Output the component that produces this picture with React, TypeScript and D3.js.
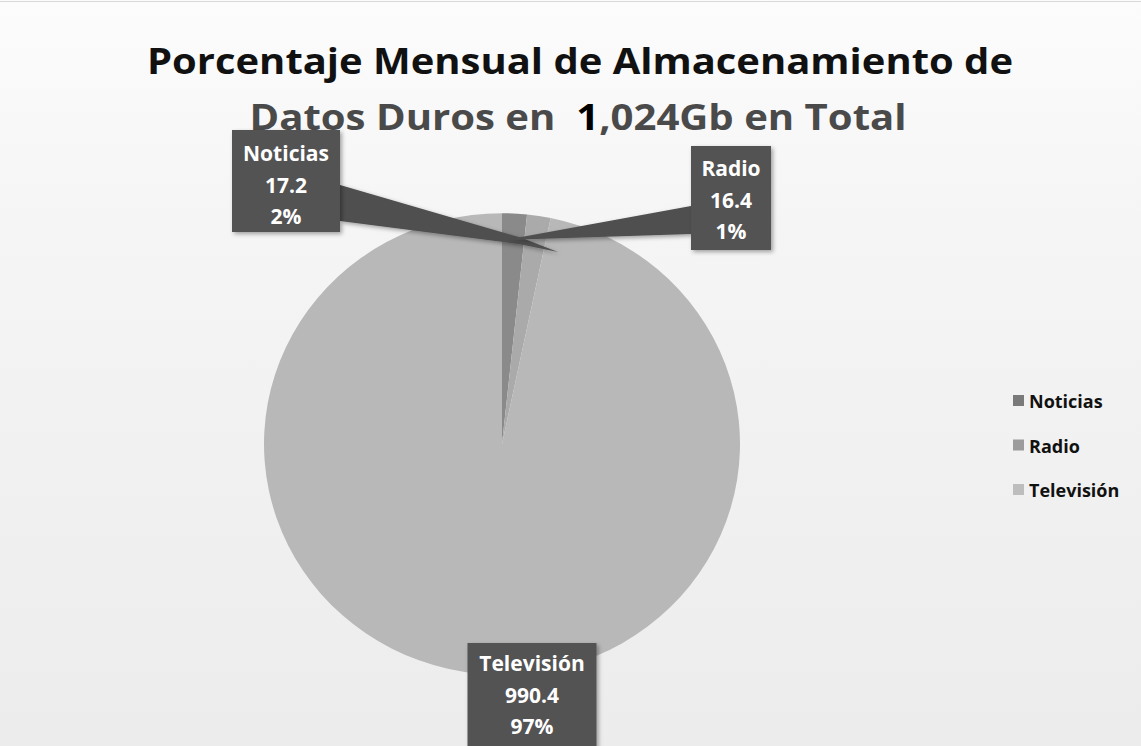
import React from "react";
import * as d3 from "d3";

const categories = ["Noticias", "Radio", "Televisión"];
const values = [17.2, 16.4, 990.4];
const percentLabels = ["2%", "1%", "97%"];
const sliceColors = ["#8a8a8a", "#aaaaaa", "#b8b8b8"];
const legendColors = ["#7a7a7a", "#9c9c9c", "#bdbdbd"];
const titleLine1 = "Porcentaje Mensual de Almacenamiento de";
const titleLine2a = "Datos Duros en  ";
const titleLine2b = "1";
const titleLine2c = ",024Gb en Total";

const W = 1141;
const H = 746;
const cx = 502;
const cy = 444;
const R = 238;
const yScale = 0.97;

// label box layout (center x, top y, width, height, first text line y)
const boxes = [
  { x: 286, y: 130, w: 108, h: 102, t: 153 },
  { x: 731, y: 146, w: 80, h: 104, t: 168 },
  { x: 532, y: 643, w: 129, h: 110, t: 663 },
];
const lineGap = 31.5;

export default function App() {
  const pie = d3
    .pie<number>()
    .sort(null)
    .value((d) => d)
    .startAngle(0)
    .endAngle(2 * Math.PI);
  const arcs = pie(values);
  const arc = d3.arc<d3.PieArcDatum<number>>().innerRadius(0).outerRadius(R);
  const fmt = d3.format(".1f");

  // leader callouts (label layout)
  const nb = boxes[0];
  const rb = boxes[1];
  const nRight = nb.x + nb.w / 2;
  const rLeft = rb.x - rb.w / 2;
  const calloutN = `M${nRight},185 L522,238 L558,252 L519,244 L${nRight},221 Z`;
  const calloutR = `M${rLeft},206 L${rLeft},234 L505,240 Z`;

  return (
    <svg
      width={W}
      height={H}
      style={{ position: "fixed", left: 0, top: 0, display: "block" }}
      fontFamily="'Open Sans', sans-serif"
    >
      <defs>
        <linearGradient id="bg" x1="0" y1="0" x2="0" y2="1">
          <stop offset="0" stopColor="#fcfcfc" />
          <stop offset="0.3" stopColor="#f5f5f5" />
          <stop offset="1" stopColor="#ececec" />
        </linearGradient>
        <filter id="shadow" x="-20%" y="-20%" width="140%" height="140%">
          <feDropShadow dx="2" dy="2" stdDeviation="2" floodColor="#000" floodOpacity="0.35" />
        </filter>
      </defs>
      <rect x={0} y={0} width={W} height={H} fill="url(#bg)" />
      <line x1={0} y1={1.5} x2={W} y2={1.5} stroke="#d8d8d8" strokeWidth={1} />

      <text
        x={580}
        y={74}
        textAnchor="middle"
        fontSize={35}
        fontWeight="bold"
        fill="#111"
        textLength={866}
        lengthAdjust="spacingAndGlyphs"
      >
        {titleLine1}
      </text>
      <text
        x={578}
        y={130}
        textAnchor="middle"
        fontSize={35}
        fontWeight="bold"
        fill="#4a4a4a"
        textLength={657}
        lengthAdjust="spacingAndGlyphs"
        style={{ whiteSpace: "pre" }}
      >
        {titleLine2a}
        <tspan fill="#000">{titleLine2b}</tspan>
        {titleLine2c}
      </text>

      <g transform={`translate(${cx},${cy}) scale(1,${yScale})`}>
        {arcs.map((a, i) => (
          <path key={categories[i]} d={arc(a) || ""} fill={sliceColors[i]} />
        ))}
      </g>

      <path d={calloutN} fill="#4f4f4f" filter="url(#shadow)" />
      <path d={calloutR} fill="#4f4f4f" filter="url(#shadow)" />

      {boxes.map((b, i) => (
        <g key={"b" + i}>
          <rect
            x={b.x - b.w / 2}
            y={b.y}
            width={b.w}
            height={b.h}
            fill="#525252"
            filter="url(#shadow)"
          />
          {[categories[i], fmt(values[i]), percentLabels[i]].map((t, j) => (
            <text
              key={j}
              x={b.x}
              y={b.t + j * lineGap}
              textAnchor="middle"
              fontSize={21}
              fontWeight="bold"
              fill="#ffffff"
              dominantBaseline="central"
            >
              {t}
            </text>
          ))}
        </g>
      ))}

      {categories.map((c, i) => (
        <g key={"l" + i} transform={`translate(1013,${401 + i * 44.5})`}>
          <rect x={0} y={-6} width={11} height={11} fill={legendColors[i]} />
          <text x={16} y={0} dominantBaseline="central" fontSize={18} fontWeight="bold" fill="#111">
            {c}
          </text>
        </g>
      ))}
    </svg>
  );
}
